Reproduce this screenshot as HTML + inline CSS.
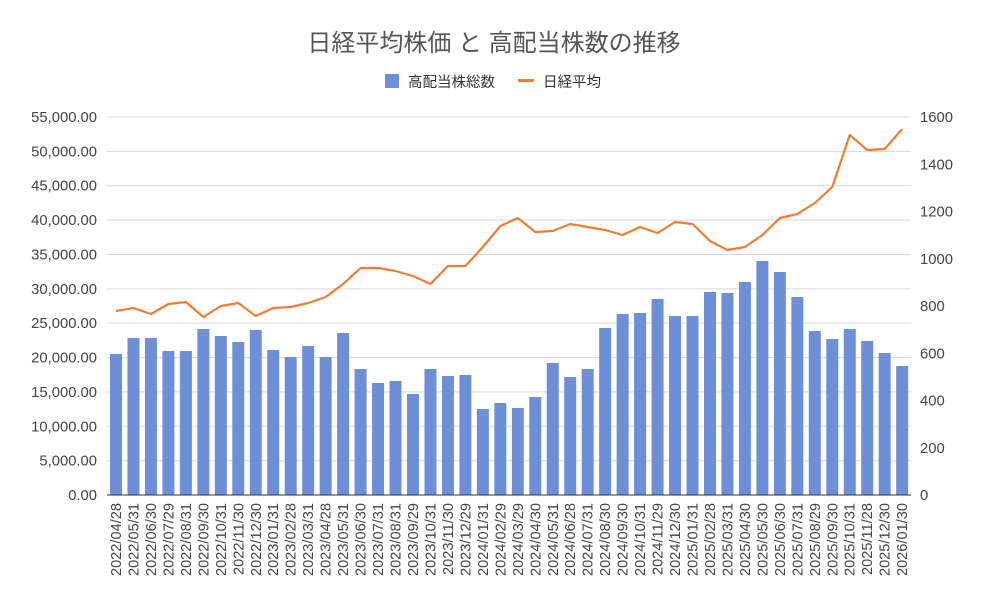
<!DOCTYPE html>
<html><head><meta charset="utf-8"><style>
body{margin:0;background:#fff}
svg{display:block}
text{font-family:"Liberation Sans","Noto Sans CJK JP",sans-serif}
</style></head><body>
<svg width="984" height="609" xmlns="http://www.w3.org/2000/svg">
<rect width="984" height="609" fill="#fff"/>
<text x="494" y="51" font-size="24" fill="#555" text-anchor="middle">日経平均株価 と 高配当株数の推移</text>
<rect x="385" y="74" width="14" height="14" fill="#6d8fd8"/>
<text x="408" y="87" font-size="14.5" fill="#333">高配当株総数</text>
<rect x="518" y="79" width="16" height="3" fill="#f47c30"/>
<text x="543" y="87" font-size="14.5" fill="#333">日経平均</text>
<g id="grid" stroke="#d9d9d9" stroke-width="1"></g>
<g id="ly" font-size="14.8" fill="#444" text-anchor="end"></g>
<g id="ry" font-size="14.8" fill="#444" text-anchor="start"></g>
<g id="bars" fill="#6d8fd8"></g>
<polyline id="line" fill="none" stroke="#f47c30" stroke-width="2.2" stroke-linejoin="round"/>
<line x1="107" y1="495" x2="911" y2="495" stroke="#333" stroke-width="1"/>
<g id="xl" font-size="14.6" fill="#444" text-anchor="end"></g>
</svg>
<script>
var ns="http://www.w3.org/2000/svg";
function el(t,a,p,txt){var e=document.createElementNS(ns,t);for(var k in a)e.setAttribute(k,a[k]);if(txt!=null)e.textContent=txt;document.getElementById(p).appendChild(e);}
for(var i=0;i<=11;i++){var y=495-i*378/11;if(i>0)el('line',{x1:107,x2:911,y1:y,y2:y},'grid');
var v=(i*5000).toLocaleString('en-US')+'.00';el('text',{x:97,y:y+5},'ly',v);}
for(var i=0;i<=8;i++){var y=495-i*378/8;el('text',{x:920,y:y+5},'ry',String(i*200));}
var bt=[354,338,338,351,351,329,336,342,330,350,357,346,357,333,369,383,381,394,369,376,375,409,403,408,397,363,377,369,328,314,313,299,316,316,292,293,282,261,272,297,331,339,329,341,353,366];
var ly=[311,308,314,304,302,317,306,303,316,308,307,303,297,284,268,268,271,276,284,266,266,247,226,218,232,231,224,227,230,235,227,233,222,224,241,250,247,235,218,214,203,187,135,150,149,129];
var lb=["2022/04/28","2022/05/31","2022/06/30","2022/07/29","2022/08/31","2022/09/30","2022/10/31","2022/11/30","2022/12/30","2023/01/31","2023/02/28","2023/03/31","2023/04/28","2023/05/31","2023/06/30","2023/07/31","2023/08/31","2023/09/29","2023/10/31","2023/11/30","2023/12/29","2024/01/31","2024/02/29","2024/03/29","2024/04/30","2024/05/31","2024/06/28","2024/07/31","2024/08/30","2024/09/30","2024/10/31","2024/11/29","2024/12/30","2025/01/31","2025/02/28","2025/03/31","2025/04/30","2025/05/30","2025/06/30","2025/07/31","2025/08/29","2025/09/30","2025/10/31","2025/11/28","2025/12/30","2026/01/30"];
var pts=[];
for(var i=0;i<46;i++){var cx=116+i*17.47;
el('rect',{x:cx-6,y:bt[i],width:12,height:495-bt[i]},'bars');
pts.push(cx+','+ly[i]);
el('text',{x:0,y:0,transform:'translate('+(cx+5)+',503) rotate(-90)'},'xl',lb[i]);}
document.getElementById('line').setAttribute('points',pts.join(' '));
</script>
</body></html>
